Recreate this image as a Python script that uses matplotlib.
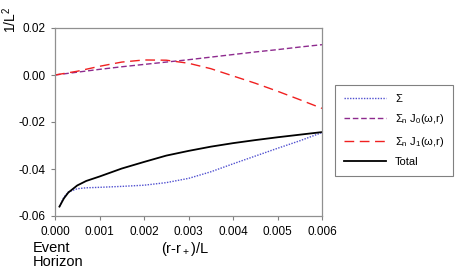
import matplotlib
matplotlib.use("Agg")
import matplotlib.pyplot as plt
from matplotlib.lines import Line2D

plt.rcParams['font.family'] = ['Liberation Sans', 'DejaVu Sans']
plt.rcParams['mathtext.fontset'] = 'custom'
plt.rcParams['mathtext.rm'] = 'Liberation Sans'
plt.rcParams['mathtext.it'] = 'Liberation Sans'

x_sigma = [0.0001, 0.0002, 0.0003, 0.0005, 0.0007, 0.001, 0.0015, 0.002, 0.0025, 0.003, 0.0035, 0.004, 0.0045, 0.005, 0.0055, 0.006]
y_sigma = [-0.0560, -0.0520, -0.0498, -0.0484, -0.0480, -0.0478, -0.0474, -0.0469, -0.0458, -0.0440, -0.0412, -0.0378, -0.0345, -0.0312, -0.0280, -0.0245]

x_j = [0.0, 0.0005, 0.001, 0.0015, 0.002, 0.0025, 0.003, 0.0035, 0.004, 0.0045, 0.005, 0.0055, 0.006]
y_j0 = [0.0, 0.0012, 0.0024, 0.0035, 0.0045, 0.0055, 0.0065, 0.0076, 0.0087, 0.0098, 0.0108, 0.0119, 0.0129]
y_j1 = [0.0, 0.0016, 0.0037, 0.0055, 0.0064, 0.0063, 0.0050, 0.0027, -0.0004, -0.0035, -0.0069, -0.0105, -0.0142]

x_total = [0.0001, 0.0002, 0.0003, 0.0005, 0.0007, 0.001, 0.0015, 0.002, 0.0025, 0.003, 0.0035, 0.004, 0.0045, 0.005, 0.0055, 0.006]
y_total = [-0.0560, -0.0525, -0.0500, -0.0470, -0.0451, -0.0432, -0.0398, -0.0370, -0.0343, -0.0323, -0.0305, -0.0290, -0.0277, -0.0265, -0.0254, -0.0243]

xticks = [0.0, 0.001, 0.002, 0.003, 0.004, 0.005, 0.006]
xticklabels = ['0.000', '0.001', '0.002', '0.003', '0.004', '0.005', '0.006']
yticks = [-0.06, -0.04, -0.02, 0.0, 0.02]
yticklabels = ['-0.06', '-0.04', '-0.02', '0.00', '0.02']

fig = plt.figure(figsize=(4.61, 2.73), dpi=100)
ax = fig.add_axes([55/461, 1-216/273, (322-55)/461, (216-28)/273])

c_sigma = '#5050d0'
c_j0 = '#8e2a8e'
c_j1 = '#f02020'

ax.plot(x_sigma, y_sigma, color=c_sigma, lw=1.0, linestyle=(0, (1, 1)))
ax.plot(x_j, y_j0, color=c_j0, lw=1.0, linestyle=(0, (4, 2)))
ax.plot(x_j, y_j1, color=c_j1, lw=1.0, linestyle=(0, (7, 4)))
ax.plot(x_total, y_total, color='black', lw=1.3)

ax.set_xlim(0, 0.006)
ax.set_ylim(-0.06, 0.02)
ax.set_xticks(xticks)
ax.set_xticklabels(xticklabels)
ax.set_yticks(yticks)
ax.set_yticklabels(yticklabels)
ax.tick_params(labelsize=8.5, color='#808080', length=3, direction='out', pad=4)
for s in ax.spines.values():
    s.set_color('#909090')
    s.set_linewidth(0.9)

handles = [
    Line2D([], [], color=c_sigma, lw=1.0, linestyle=(0, (1, 1))),
    Line2D([], [], color=c_j0, lw=1.0, linestyle=(0, (4, 2))),
    Line2D([], [], color=c_j1, lw=1.0, linestyle=(0, (7, 4))),
    Line2D([], [], color='black', lw=1.3),
]
labels = ['Σ', r'Σ$_\mathrm{n}$ J$_0$(ω,r)', r'Σ$_\mathrm{n}$ J$_1$(ω,r)', 'Total']
leg = fig.legend(handles, labels, loc='upper left', bbox_to_anchor=(335/461, 1-85/273),
                 fontsize=8, frameon=True, fancybox=False, edgecolor='#606060',
                 handlelength=3.8, borderpad=0.8, labelspacing=0.75, handletextpad=0.8,
                 borderaxespad=0)
leg.get_frame().set_linewidth(0.8)

fig.text(10/461, 1-20/273, r'1/L$^2$', rotation=90, ha='center', va='center', fontsize=10)
fig.text(33/461, 1-255/273, 'Event\nHorizon', ha='left', va='center', fontsize=10.5, linespacing=1.05)
fig.text(185/461, 1-249/273, r'(r-r$_+$)/L', ha='center', va='center', fontsize=10.5)

fig.savefig('out.png', dpi=100)
